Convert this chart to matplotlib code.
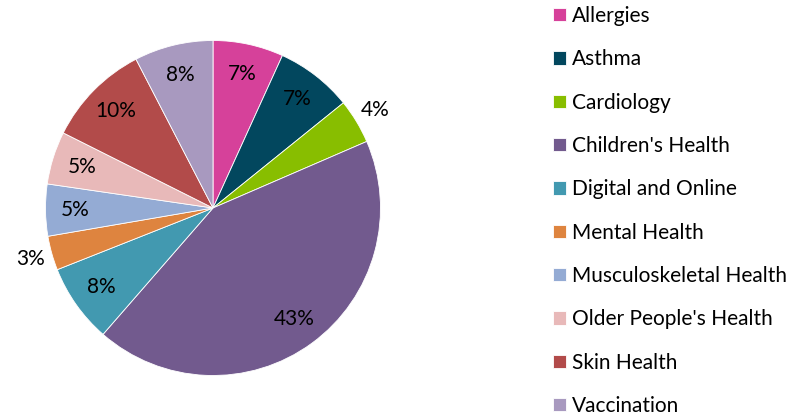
import numpy as np
import matplotlib.pyplot as plt

plt.rcParams['font.family'] = ['Lato', 'DejaVu Sans']

categories = ["Allergies", "Asthma", "Cardiology", "Children's Health",
              "Digital and Online", "Mental Health", "Musculoskeletal Health",
              "Older People's Health", "Skin Health", "Vaccination"]
shares = [6.8, 7.4, 4.3, 42.9, 7.6, 3.3, 5.0, 5.1, 10.0, 7.6]
colors = ['#D6419A', '#02475E', '#88BE00', '#725A8E', '#4299B0',
          '#DE843F', '#94ABD4', '#E8B9B9', '#B24B4A', '#A899BF']
outside = ["Cardiology", "Mental Health"]  # labels drawn outside the pie

fig = plt.figure(figsize=(8, 4.16), dpi=100)
ax = fig.add_axes([45.5 / 800, 40.5 / 416, 335 / 800, 335 / 416])

wedges, texts, autotexts = ax.pie(
    shares, colors=colors, startangle=90, counterclock=False,
    autopct='%.0f%%', pctdistance=0.82,
    wedgeprops=dict(edgecolor='white', linewidth=0.6),
    textprops=dict(fontsize=15, color='black'))
ax.set_xlim(-1, 1)
ax.set_ylim(-1, 1)
ax.set_aspect('equal')

# push the small slice labels outside
for w, t, name in zip(wedges, autotexts, categories):
    if name in outside:
        ang = np.deg2rad((w.theta1 + w.theta2) / 2)
        t.set_position((1.13 * np.cos(ang), 1.13 * np.sin(ang)))

leg = fig.legend(wedges, categories, loc='upper left',
                 bbox_to_anchor=(553 / 800, 1 - 6 / 416),
                 frameon=False, fontsize=15, borderpad=0, borderaxespad=0,
                 handlelength=0.61, handleheight=0.61, handletextpad=0.3,
                 labelspacing=1.12)

fig.savefig('out.png', dpi=100)
